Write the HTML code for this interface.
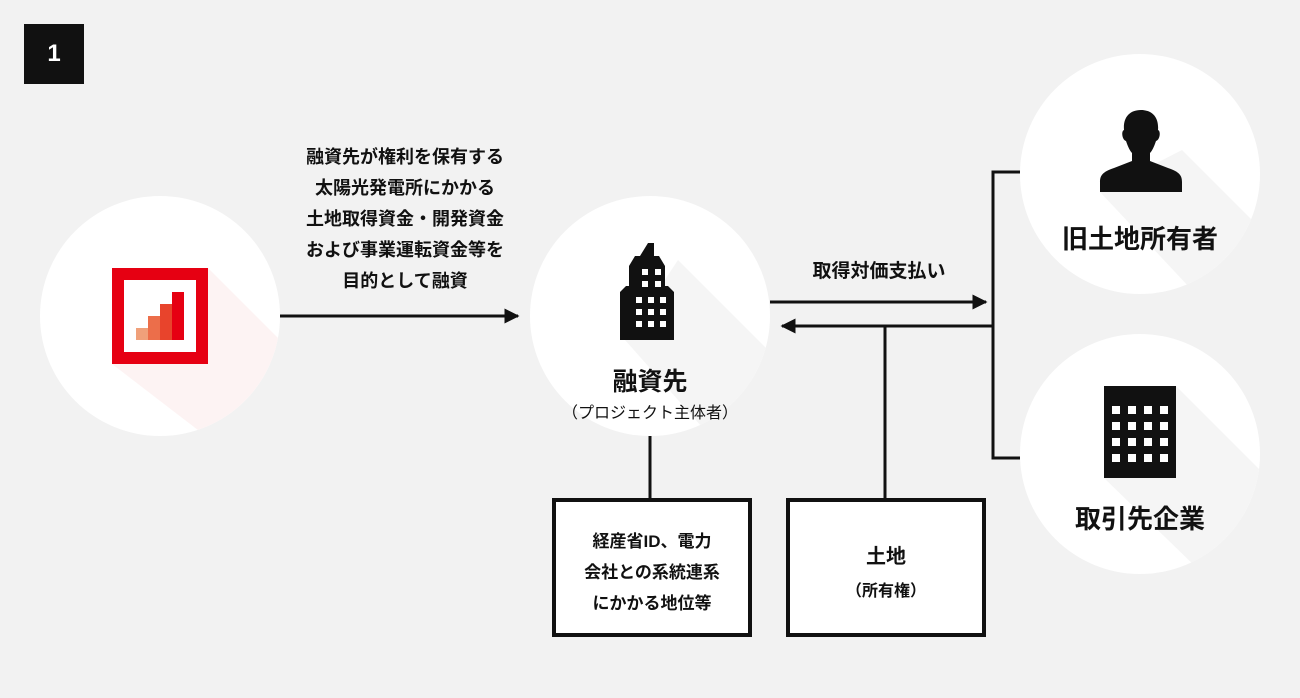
<!DOCTYPE html>
<html><head><meta charset="utf-8"><style>
body{margin:0;width:1300px;height:698px;background:#f2f2f2;position:relative;overflow:hidden;font-family:"Liberation Sans","Noto Sans CJK JP",sans-serif;color:#111}
.a{position:absolute}
.t{position:absolute;text-align:center;font-weight:bold;white-space:nowrap}
.box{position:absolute;border:4px solid #111;background:#fff;box-sizing:border-box}
</style></head><body>
<div class="a" style="left:24px;top:24px;width:60px;height:60px;background:#111;color:#fff;font-weight:bold;font-size:24px;line-height:60px;text-align:center">1</div>

<svg class="a" style="left:0;top:0" width="1300" height="698">
<defs><marker id="ar" viewBox="0 0 10 10" refX="9" refY="5" markerWidth="5" markerHeight="5" orient="auto"><path d="M0,0L10,5L0,10z" fill="#111"/></marker>
<clipPath id="c1"><circle cx="160" cy="316" r="120"/></clipPath>
<clipPath id="c2"><circle cx="650" cy="316" r="120"/></clipPath>
<clipPath id="c3"><circle cx="1140" cy="174" r="120"/></clipPath>
<clipPath id="c4"><circle cx="1140" cy="454" r="120"/></clipPath>
</defs>
<g fill="#fff"><circle cx="160" cy="316" r="120"/><circle cx="650" cy="316" r="120"/><circle cx="1140" cy="174" r="120"/><circle cx="1140" cy="454" r="120"/></g>
<!-- shadows -->
<polygon clip-path="url(#c1)" points="208,268 320,380 250,470 112,364" fill="#fdf3f3"/>
<polygon clip-path="url(#c2)" points="678,260 800,382 740,470 625,340" fill="#f5f5f5"/>
<polygon clip-path="url(#c3)" points="1182,150 1300,268 1220,320 1100,192" fill="#f5f5f5"/>
<polygon clip-path="url(#c4)" points="1176,386 1300,510 1230,600 1104,478" fill="#f5f5f5"/>
<!-- red icon -->
<rect x="118" y="274" width="84" height="84" fill="#fff" stroke="#e60012" stroke-width="12"/>
<rect x="136" y="328" width="12" height="12" fill="#f0a07a"/>
<rect x="148" y="316" width="12" height="24" fill="#ec6e4a"/>
<rect x="160" y="304" width="12" height="36" fill="#e8442c"/>
<rect x="172" y="292" width="12" height="48" fill="#e60012"/>
<!-- building -->
<path d="M648,243h6v13l5,0l6,10v20l3,0l6,6v48h-54v-48l6-6h3v-20l6-10h5z" fill="#111"/>
<g fill="#fff"><rect x="642" y="269" width="6" height="6"/><rect x="655" y="269" width="6" height="6"/><rect x="642" y="281" width="6" height="6"/><rect x="655" y="281" width="6" height="6"/>
<rect x="636" y="297" width="6" height="6"/><rect x="648" y="297" width="6" height="6"/><rect x="660" y="297" width="6" height="6"/>
<rect x="636" y="309" width="6" height="6"/><rect x="648" y="309" width="6" height="6"/><rect x="660" y="309" width="6" height="6"/>
<rect x="636" y="321" width="6" height="6"/><rect x="648" y="321" width="6" height="6"/><rect x="660" y="321" width="6" height="6"/></g>
<!-- person -->
<path d="M1141,110c-12,0-18,8-17,20c-3,1-2,10,2,11c2,6,4,10,6,12v8l-18,7c-12,4-14,8-14,14v10h82v-10c0-6-2-10-14-14l-18-7v-8c2-2,4-6,6-12c4-1,5-10,2-11c1-12-5-20-17-20z" fill="#111"/>
<!-- office -->
<rect x="1104" y="386" width="72" height="92" fill="#111"/>
<g fill="#fff">
<rect x="1112" y="406" width="8" height="8"/><rect x="1128" y="406" width="8" height="8"/><rect x="1144" y="406" width="8" height="8"/><rect x="1160" y="406" width="8" height="8"/>
<rect x="1112" y="422" width="8" height="8"/><rect x="1128" y="422" width="8" height="8"/><rect x="1144" y="422" width="8" height="8"/><rect x="1160" y="422" width="8" height="8"/>
<rect x="1112" y="438" width="8" height="8"/><rect x="1128" y="438" width="8" height="8"/><rect x="1144" y="438" width="8" height="8"/><rect x="1160" y="438" width="8" height="8"/>
<rect x="1112" y="454" width="8" height="8"/><rect x="1128" y="454" width="8" height="8"/><rect x="1144" y="454" width="8" height="8"/><rect x="1160" y="454" width="8" height="8"/></g>
<!-- lines -->
<g stroke="#111" stroke-width="3" fill="none">
<line x1="280" y1="316" x2="518" y2="316" marker-end="url(#ar)"/>
<line x1="770" y1="302" x2="986" y2="302" marker-end="url(#ar)"/>
<line x1="993" y1="326" x2="782" y2="326" marker-end="url(#ar)"/>
<polyline points="1020,172 993,172 993,458 1020,458"/>
<line x1="885" y1="326" x2="885" y2="500"/>
<line x1="650" y1="436" x2="650" y2="500"/>
</g>
</svg>

<div class="t" style="left:280px;top:142px;width:250px;font-size:18px;line-height:31px">融資先が権利を保有する<br>太陽光発電所にかかる<br>土地取得資金・開発資金<br>および事業運転資金等を<br>目的として融資</div>
<div class="t" style="left:770px;top:256px;width:218px;font-size:19px">取得対価支払い</div>
<div class="t" style="left:530px;top:362px;width:240px;font-size:25px">融資先</div>
<div class="t" style="left:530px;top:399px;width:240px;font-size:16px;font-weight:normal">（プロジェクト主体者）</div>
<div class="t" style="left:1020px;top:219px;width:240px;font-size:26px">旧土地所有者</div>
<div class="t" style="left:1020px;top:499px;width:240px;font-size:26px">取引先企業</div>

<div class="box" style="left:552px;top:498px;width:200px;height:139px"></div>
<div class="t" style="left:552px;top:526px;width:200px;font-size:17px;line-height:31px">経産省ID、電力<br>会社との系統連系<br>にかかる地位等</div>
<div class="box" style="left:786px;top:498px;width:200px;height:139px"></div>
<div class="t" style="left:786px;top:540px;width:200px;font-size:20px">土地</div>
<div class="t" style="left:786px;top:577px;width:200px;font-size:16px">（所有権）</div>
</body></html>
